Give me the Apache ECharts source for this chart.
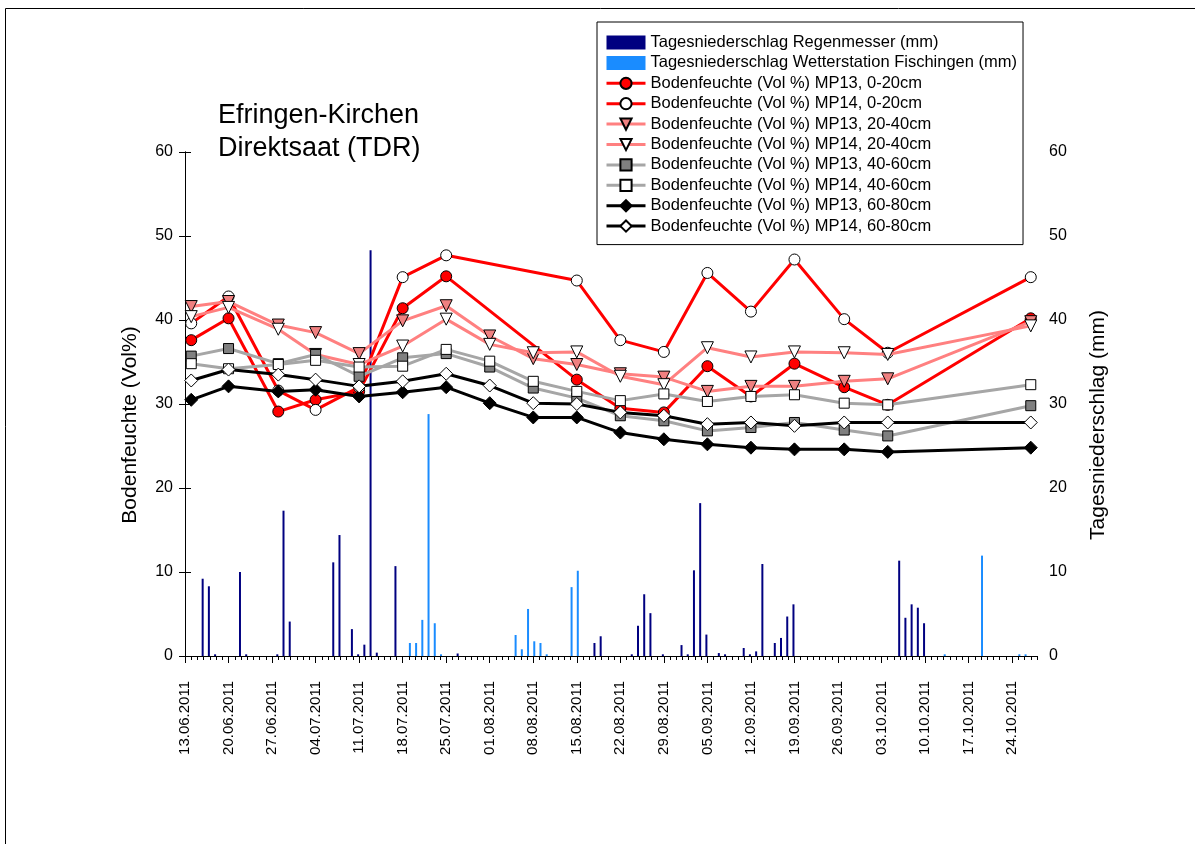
<!DOCTYPE html>
<html><head><meta charset="utf-8">
<script src="https://cdn.jsdelivr.net/npm/echarts@6/dist/echarts.min.js"></script>
<style>html,body{margin:0;padding:0;background:#fff}#c{width:1195px;height:844px}</style>
</head><body><div id="c"></div>
<script>
// ---------- DATA ----------
const axisStart = "13.06.2011";
const axisEnd = "28.10.2011";
const tickLabels = ["13.06.2011","20.06.2011","27.06.2011","04.07.2011","11.07.2011","18.07.2011","25.07.2011",
  "01.08.2011","08.08.2011","15.08.2011","22.08.2011","29.08.2011","05.09.2011","12.09.2011","19.09.2011",
  "26.09.2011","03.10.2011","10.10.2011","17.10.2011","24.10.2011"];

const soilDates = ["14.06.2011","20.06.2011","28.06.2011","04.07.2011","11.07.2011","18.07.2011","25.07.2011",
  "01.08.2011","08.08.2011","15.08.2011","22.08.2011","29.08.2011","05.09.2011","12.09.2011","19.09.2011",
  "27.09.2011","04.10.2011","27.10.2011"];
const mp13_0_20  = [37.6, 40.2, 29.1, 30.5, 31.5, 41.4, 45.2, null, null, 32.9, 29.5, 29.0, 34.5, 30.9, 34.8, 32.0, 29.9, 40.2];
const mp14_0_20  = [39.6, 42.8, 31.6, 29.3, 32.0, 45.1, 47.7, null, null, 44.7, 37.6, 36.2, 45.6, 41.0, 47.2, 40.1, 36.1, 45.1];
const mp13_20_40 = [41.6, 42.2, 39.4, 38.5, 36.0, 39.9, 41.7, 38.1, 35.4, 34.7, 33.6, 33.2, 31.5, 32.1, 32.1, 32.7, 33.0, 39.8];
const mp14_20_40 = [40.4, 41.5, 38.9, 35.9, 34.7, 36.9, 40.1, 37.1, 36.1, 36.2, 33.3, 32.3, 36.7, 35.6, 36.2, 36.1, 35.9, 39.3];
const mp13_40_60 = [35.7, 36.6, 34.8, 35.9, 33.3, 35.5, 36.0, 34.4, 31.9, 30.7, 28.6, 28.0, 26.8, 27.2, 27.8, 26.9, 26.2, 29.8];
const mp14_40_60 = [34.8, 34.2, 34.7, 35.2, 34.4, 34.5, 36.5, 35.1, 32.7, 31.5, 30.4, 31.2, 30.3, 30.9, 31.1, 30.1, 29.9, 32.3];
const mp13_60_80 = [30.5, 32.1, 31.5, 31.7, 30.9, 31.4, 32.0, 30.1, 28.4, 28.4, 26.6, 25.8, 25.2, 24.8, 24.6, 24.6, 24.3, 24.8];
const mp14_60_80 = [32.8, 34.1, 33.5, 32.9, 32.1, 32.7, 33.6, 32.2, 30.1, 30.0, 29.0, 28.6, 27.6, 27.8, 27.4, 27.8, 27.8, 27.8];

const rainGaugeDates = ["16.06.2011","17.06.2011","18.06.2011","22.06.2011","23.06.2011","28.06.2011","29.06.2011","30.06.2011",
  "07.07.2011","08.07.2011","10.07.2011","11.07.2011","12.07.2011","13.07.2011","14.07.2011","17.07.2011","27.07.2011",
  "18.08.2011","19.08.2011","24.08.2011","25.08.2011","26.08.2011","27.08.2011","29.08.2011",
  "01.09.2011","02.09.2011","03.09.2011","04.09.2011","05.09.2011","07.09.2011","08.09.2011","11.09.2011","12.09.2011",
  "13.09.2011","14.09.2011","16.09.2011","17.09.2011","18.09.2011","19.09.2011",
  "06.10.2011","07.10.2011","08.10.2011","09.10.2011","10.10.2011"];
const rainGauge = [9.2, 8.3, 0.2, 10.0, 0.2, 0.2, 17.3, 4.1,
  11.15, 14.4, 3.2, 0.2, 1.35, 48.3, 0.4, 10.7, 0.3,
  1.55, 2.35, 0.2, 3.6, 7.35, 5.1, 0.2,
  1.3, 0.2, 10.2, 18.2, 2.55, 0.35, 0.2, 0.95, 0.2,
  0.55, 10.95, 1.55, 2.15, 4.7, 6.15,
  11.35, 4.55, 6.15, 5.75, 3.9];

const stationDates = ["19.07.2011","20.07.2011","21.07.2011","22.07.2011","23.07.2011","24.07.2011",
  "05.08.2011","06.08.2011","07.08.2011","08.08.2011","09.08.2011","10.08.2011","14.08.2011","15.08.2011",
  "13.10.2011","19.10.2011","25.10.2011","26.10.2011"];
const station = [1.55, 1.55, 4.3, 28.8, 3.9, 0.2,
  2.5, 0.8, 5.6, 1.75, 1.55, 0.2, 8.2, 10.15,
  0.2, 11.95, 0.2, 0.2];

// ---------- HELPERS ----------
function toUTC(s){ const p = s.split('.'); return Date.UTC(+p[2], +p[1]-1, +p[0]); }
const t0 = toUTC(axisStart);
function dayIndex(s){ return Math.round((toUTC(s) - t0) / 86400000); }
const tickValues = tickLabels.map(dayIndex);
const labelByValue = {};
tickLabels.forEach((l, i) => { labelByValue[tickValues[i]] = l; });
const axisMax = dayIndex(axisEnd);

function pairs(dates, vals){
  return dates.map((d, i) => [dayIndex(d), vals[i]]).filter(p => p[1] !== null);
}

const FONT = "'Liberation Sans', Arial, sans-serif";

const lineSpecs = [
  {name:'Bodenfeuchte (Vol %) MP13, 0-20cm',  vals:mp13_0_20,  line:'#ff0000', fill:'#ff0000', symbol:'circle',   size:11, rot:0},
  {name:'Bodenfeuchte (Vol %) MP14, 0-20cm',  vals:mp14_0_20,  line:'#ff0000', fill:'#ffffff', symbol:'circle',   size:11, rot:0},
  {name:'Bodenfeuchte (Vol %) MP13, 20-40cm', vals:mp13_20_40, line:'#ff8080', fill:'#f08080', symbol:'triangle', size:12, rot:180},
  {name:'Bodenfeuchte (Vol %) MP14, 20-40cm', vals:mp14_20_40, line:'#ff8080', fill:'#ffffff', symbol:'triangle', size:12, rot:180},
  {name:'Bodenfeuchte (Vol %) MP13, 40-60cm', vals:mp13_40_60, line:'#a6a6a6', fill:'#808080', symbol:'rect',     size:10, rot:0},
  {name:'Bodenfeuchte (Vol %) MP14, 40-60cm', vals:mp14_40_60, line:'#a6a6a6', fill:'#ffffff', symbol:'rect',     size:10, rot:0},
  {name:'Bodenfeuchte (Vol %) MP13, 60-80cm', vals:mp13_60_80, line:'#000000', fill:'#000000', symbol:'diamond',  size:13, rot:0},
  {name:'Bodenfeuchte (Vol %) MP14, 60-80cm', vals:mp14_60_80, line:'#000000', fill:'#ffffff', symbol:'diamond',  size:13, rot:0}
];

const barNames = ['Tagesniederschlag Regenmesser (mm)', 'Tagesniederschlag Wetterstation Fischingen (mm)'];

const series = [
  {name:barNames[0], type:'bar', xAxisIndex:0, yAxisIndex:1, barWidth:2, barGap:'0%', z:1,
   itemStyle:{color:'#000080'}, data:pairs(rainGaugeDates, rainGauge)},
  {name:barNames[1], type:'bar', xAxisIndex:0, yAxisIndex:1, barWidth:2, barGap:'0%', z:1,
   itemStyle:{color:'#1a8cff'}, data:pairs(stationDates, station)}
];
lineSpecs.forEach((s, i) => {
  series.push({
    name:s.name, type:'line', xAxisIndex:0, yAxisIndex:0, z:3+i,
    symbol:s.symbol, symbolSize:s.size, symbolRotate:s.rot, showAllSymbol:true,
    connectNulls:true,
    lineStyle:{color:s.line, width:3},
    itemStyle:{color:s.fill, borderColor:'#000', borderWidth:1},
    emphasis:{disabled:true},
    data:pairs(soilDates, s.vals)
  });
});

const chart = echarts.init(document.getElementById('c'), null, {renderer:'canvas'});
chart.setOption({
  animation:false,
  backgroundColor:'#ffffff',
  textStyle:{fontFamily:FONT, color:'#000'},
  title:{
    text:'Efringen-Kirchen\nDirektsaat (TDR)', left:218, top:99, padding:0,
    textStyle:{fontFamily:FONT, fontSize:27, fontWeight:'normal', color:'#000', lineHeight:33}
  },
  legend:{
    orient:'vertical', left:597, top:22,
    padding:[12, 6, 10, 8], borderColor:'#000', borderWidth:1, backgroundColor:'#fff',
    itemWidth:39, itemHeight:14, itemGap:3.4,
    lineStyle:{width:3},
    textStyle:{fontFamily:FONT, fontSize:16.5, color:'#000'},
    data:[{name:barNames[0], icon:'rect'}, {name:barNames[1], icon:'rect'}].concat(lineSpecs.map(s => s.name))
  },
  grid:{left:185, right:158, top:152, bottom:188},
  xAxis:[
    {type:'value', min:0, max:axisMax, position:'bottom',
     axisLine:{show:true, lineStyle:{color:'#000', width:1}},
     axisTick:{show:true, length:7, lineStyle:{color:'#000'}, customValues:tickValues},
     axisLabel:{show:true, rotate:90, margin:25, fontSize:15, color:'#000', fontFamily:FONT,
       customValues:tickValues, formatter:v => labelByValue[v] || ''},
     splitLine:{show:false}},
    {type:'value', min:0, max:axisMax, interval:1, position:'bottom',
     axisLine:{show:false},
     axisTick:{show:true, length:4, lineStyle:{color:'#000'}},
     axisLabel:{show:false}, splitLine:{show:false}}
  ],
  yAxis:[
    {type:'value', min:0, max:60, interval:10, position:'left',
     axisLine:{show:true, lineStyle:{color:'#000'}},
     axisTick:{show:true, length:6, lineStyle:{color:'#000'}},
     axisLabel:{fontSize:16, color:'#000', margin:12, fontFamily:FONT},
     splitLine:{show:false}},
    {type:'value', min:0, max:60, interval:10, position:'right',
     axisLine:{show:true, lineStyle:{color:'#000'}},
     axisTick:{show:true, length:6, lineStyle:{color:'#000'}},
     axisLabel:{fontSize:16, color:'#000', margin:12, fontFamily:FONT},
     splitLine:{show:false}}
  ],
  graphic:[
    {type:'rect', shape:{x:5.5, y:8.5, width:1250, height:900}, style:{fill:null, stroke:'#000', lineWidth:1}, silent:true, z:-10},
    {type:'text', x:130, y:425, rotation:Math.PI/2,
     style:{text:'Bodenfeuchte (Vol%)', fontSize:21, fontFamily:FONT, fill:'#000', align:'center', verticalAlign:'middle'}},
    {type:'text', x:1098, y:425, rotation:Math.PI/2,
     style:{text:'Tagesniederschlag (mm)', fontSize:21, fontFamily:FONT, fill:'#000', align:'center', verticalAlign:'middle'}}
  ],
  series:series
});
</script>
</body></html>
